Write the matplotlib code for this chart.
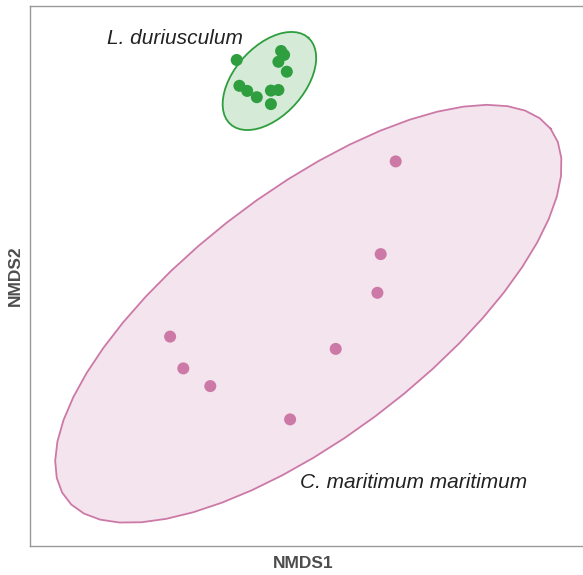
import numpy as np
import matplotlib
matplotlib.use("Agg")
import matplotlib.pyplot as plt

plt.rcParams['font.family'] = ['Liberation Sans', 'DejaVu Sans']

# NMDS site scores per group
ld_nmds1 = [-0.211, -0.063, -0.053, -0.072, -0.044, -0.202, -0.176, -0.144, -0.097, -0.072, -0.097]
ld_nmds2 = [0.800, 0.830, 0.817, 0.794, 0.761, 0.714, 0.697, 0.676, 0.698, 0.700, 0.653]

cm_nmds1 = [0.319, 0.269, 0.258, 0.119, -0.433, -0.389, -0.299, -0.033]
cm_nmds2 = [0.462, 0.153, 0.024, -0.163, -0.122, -0.228, -0.287, -0.398]

# Group ellipses: centre x, centre y, semi-major, semi-minor, angle (deg)
ld_ellipse = [-0.102, 0.730, 0.194, 0.116, 47.9]
cm_ellipse = [0.028, -0.046, 1.016, 0.407, 37.4]

group_names = ["L. duriusculum", "C. maritimum maritimum"]
group_colors = ["#2e9e3e", "#cc79a7"]
label_xy = [(-0.643, 0.873), (0.0, -0.607)]


def ellipse_path(params, n=52):
    cx, cy, a, b, ang = params
    t = np.linspace(0, 2 * np.pi, n)
    th = np.deg2rad(ang)
    x = cx + a * np.cos(t) * np.cos(th) - b * np.sin(t) * np.sin(th)
    y = cy + a * np.cos(t) * np.sin(th) + b * np.sin(t) * np.cos(th)
    return x, y


fig = plt.figure(figsize=(5.83, 5.75), dpi=100)
ax = fig.add_axes([30 / 583, 29 / 575, 580 / 583, 540 / 575])

for params, color in zip([cm_ellipse, ld_ellipse], [group_colors[1], group_colors[0]]):
    ex, ey = ellipse_path(params)
    ax.fill(ex, ey, facecolor=color, alpha=0.2, edgecolor='none', zorder=1)
    ax.plot(ex, ey, color=color, lw=1.3, zorder=2)

ax.scatter(cm_nmds1, cm_nmds2, s=75, color=group_colors[1], edgecolors='none', zorder=3)
ax.scatter(ld_nmds1, ld_nmds2, s=75, color=group_colors[0], edgecolors='none', zorder=3)

for name, (tx, ty) in zip(group_names, label_xy):
    ax.text(tx, ty, name, fontsize=15, style='italic', color='#222222',
            ha='left', va='center', zorder=4)

ax.set_xlim(-0.9, 1.0333)
ax.set_ylim(-0.82, 0.98)
ax.set_xticks([])
ax.set_yticks([])
for sp in ax.spines.values():
    sp.set_color('#999999')
    sp.set_linewidth(1.0)

ax.set_xlabel("NMDS1", fontsize=12.5, fontweight='bold', color='#4d4d4d')
ax.set_ylabel("NMDS2", fontsize=12.5, fontweight='bold', color='#4d4d4d')
ax.xaxis.set_label_coords((303 - 30) / 580, -17 / 540, transform=ax.transAxes)
ax.xaxis.label.set_va('center')
ax.yaxis.set_label_coords(-15 / 580, 0.5, transform=ax.transAxes)
ax.yaxis.label.set_va('center')

fig.savefig("out.png", dpi=100)
